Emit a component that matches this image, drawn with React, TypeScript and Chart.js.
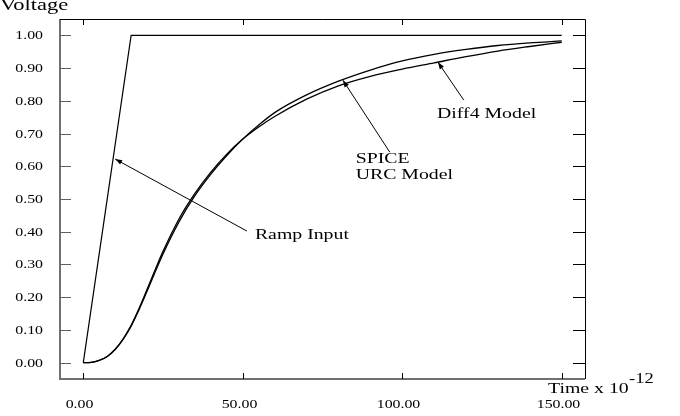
import React, { useEffect, useRef } from "react";
import { Chart, registerables } from "chart.js";

Chart.register(...registerables);

// ---- data ----
const times = [0, 2.5, 5, 7.5, 10, 12.5, 15, 17.5, 20, 22.5, 25, 30, 35, 40, 45, 50, 55, 60, 70, 80, 90, 100, 110, 120, 130, 140, 150];
const spiceValues = [0, 0.001, 0.007, 0.019, 0.04, 0.071, 0.111, 0.162, 0.218, 0.276, 0.332, 0.43, 0.51, 0.576, 0.633, 0.683, 0.726, 0.764, 0.818, 0.86, 0.894, 0.922, 0.942, 0.957, 0.969, 0.977, 0.983];
const diff4Values = [0, 0.001, 0.007, 0.019, 0.041, 0.073, 0.114, 0.166, 0.224, 0.283, 0.34, 0.439, 0.517, 0.582, 0.637, 0.683, 0.72, 0.752, 0.805, 0.846, 0.875, 0.897, 0.916, 0.935, 0.952, 0.966, 0.979];
const rampTimes = [0, 15, 150];
const rampValues = [0, 1, 1];
const xTickValues = [0, 50, 100, 150];
const yTickValues = [0, 0.1, 0.2, 0.3, 0.4, 0.5, 0.6, 0.7, 0.8, 0.9, 1.0];
const xTickLabels = xTickValues.map((v) => v.toFixed(2));
const yTickLabels = yTickValues.map((v) => v.toFixed(2));

const yTitle = "Voltage";
const xTitle = "Time x 10";
const xTitleExp = "-12";

// annotations (data coordinates)
const arrows = [
  { from: [51.3, 0.402], to: [10.0, 0.622] },
  { from: [96.1, 0.643], to: [81.4, 0.863] },
  { from: [119.3, 0.802], to: [111.2, 0.918] },
];
const notes = [
  { text: "Ramp Input", t: 53.8, v: 0.39 },
  { text: "SPICE", t: 85.4, v: 0.622 },
  { text: "URC Model", t: 85.4, v: 0.573 },
  { text: "Diff4 Model", t: 110.9, v: 0.76 },
];

const SERIF = '"Liberation Serif", "Times New Roman", serif';
const SX = 1.32;

function stretchText(ctx: CanvasRenderingContext2D, text: string, x: number, y: number, size: number, align: string) {
  ctx.save();
  ctx.font = `${size}px ${SERIF}`;
  ctx.textBaseline = "middle";
  ctx.textAlign = "left";
  const w = ctx.measureText(text).width * SX;
  const left = align === "right" ? x - w : align === "center" ? x - w / 2 : x;
  ctx.translate(left, y);
  ctx.scale(SX, 1);
  ctx.fillStyle = "#000";
  ctx.fillText(text, 0, 0);
  ctx.restore();
}

const framePlugin = {
  id: "frame",
  afterDraw(chart: any) {
    const { ctx, chartArea } = chart;
    const { left, right, top, bottom } = chartArea;
    const xs = chart.scales.x;
    const ys = chart.scales.y;
    ctx.save();
    // left & bottom axes (gray)
    ctx.strokeStyle = "#707070";
    ctx.lineWidth = 2;
    ctx.beginPath();
    ctx.moveTo(left, top);
    ctx.lineTo(left, bottom);
    ctx.lineTo(right, bottom);
    ctx.stroke();
    // top & right (black)
    ctx.strokeStyle = "#000";
    ctx.lineWidth = 1;
    ctx.beginPath();
    ctx.moveTo(left, top + 0.5);
    ctx.lineTo(right + 0.5, top + 0.5);
    ctx.lineTo(right + 0.5, bottom);
    ctx.stroke();

    // y ticks
    yTickValues.forEach((v, i) => {
      const py = Math.round(ys.getPixelForValue(v)) + 0.5;
      ctx.strokeStyle = "#606060";
      ctx.beginPath();
      ctx.moveTo(left, py);
      ctx.lineTo(left + 11, py);
      ctx.stroke();
      ctx.strokeStyle = "#000";
      ctx.beginPath();
      ctx.moveTo(right - 12, py);
      ctx.lineTo(right, py);
      ctx.stroke();
      stretchText(ctx, yTickLabels[i], 43, py, 12, "right");
    });
    // x ticks
    xTickValues.forEach((v, i) => {
      const px = Math.round(xs.getPixelForValue(v)) + 0.5;
      ctx.strokeStyle = "#000";
      ctx.beginPath();
      ctx.moveTo(px, bottom);
      ctx.lineTo(px, bottom - 6);
      ctx.moveTo(px, top);
      ctx.lineTo(px, top + 6);
      ctx.stroke();
      stretchText(ctx, xTickLabels[i], px - 4, bottom + 26, 12, "center");
    });

    // titles
    ctx.save();
    ctx.font = `17px ${SERIF}`;
    ctx.textBaseline = "alphabetic";
    ctx.translate(0, 10);
    ctx.scale(SX, 1);
    ctx.fillStyle = "#000";
    ctx.fillText(yTitle, 0, 0);
    ctx.restore();
    stretchText(ctx, xTitle, 548, bottom + 10, 15, "left");
    stretchText(ctx, xTitleExp, 629, bottom, 14, "left");

    // arrows
    ctx.strokeStyle = "#000";
    ctx.fillStyle = "#000";
    ctx.lineWidth = 1;
    arrows.forEach((a) => {
      const x1 = xs.getPixelForValue(a.from[0]);
      const y1 = ys.getPixelForValue(a.from[1]);
      const x2 = xs.getPixelForValue(a.to[0]);
      const y2 = ys.getPixelForValue(a.to[1]);
      ctx.beginPath();
      ctx.moveTo(x1, y1);
      ctx.lineTo(x2, y2);
      ctx.stroke();
      const ang = Math.atan2(y2 - y1, x2 - x1);
      const len = 7;
      const hw = 2.5;
      const bx = x2 - len * Math.cos(ang);
      const by = y2 - len * Math.sin(ang);
      ctx.beginPath();
      ctx.moveTo(x2, y2);
      ctx.lineTo(bx + hw * Math.sin(ang), by - hw * Math.cos(ang));
      ctx.lineTo(bx - hw * Math.sin(ang), by + hw * Math.cos(ang));
      ctx.closePath();
      ctx.fill();
    });
    notes.forEach((n) => {
      stretchText(ctx, n.text, xs.getPixelForValue(n.t), ys.getPixelForValue(n.v), 15, "left");
    });
    ctx.restore();
  },
};

export default function App() {
  const ref = useRef<HTMLCanvasElement | null>(null);
  useEffect(() => {
    if (!ref.current) return;
    const mk = (ts: number[], vs: number[]) => ts.map((t, i) => ({ x: t, y: vs[i] }));
    const chart = new Chart(ref.current, {
      type: "line",
      data: {
        datasets: [
          { label: "Ramp Input", data: mk(rampTimes, rampValues), borderColor: "#000", borderWidth: 1.2, pointRadius: 0, tension: 0 },
          { label: "SPICE URC Model", data: mk(times, spiceValues), borderColor: "#000", borderWidth: 1.3, pointRadius: 0, cubicInterpolationMode: "monotone" },
          { label: "Diff4 Model", data: mk(times, diff4Values), borderColor: "#000", borderWidth: 1.3, pointRadius: 0, cubicInterpolationMode: "monotone" },
        ],
      },
      options: {
        animation: false,
        responsive: false,
        devicePixelRatio: 1,
        layout: { padding: { left: 60, top: 19, right: 95, bottom: 37 } },
        scales: {
          x: { type: "linear", min: -7.3, max: 157.3, display: false },
          y: { type: "linear", min: -0.05, max: 1.05, display: false },
        },
        plugins: { legend: { display: false }, tooltip: { enabled: false } },
      },
      plugins: [framePlugin],
    } as any);
    return () => chart.destroy();
  }, []);
  return (
    <div style={{ position: "fixed", left: 0, top: 0, width: 680, height: 416, background: "#fff" }}>
      <canvas ref={ref} width={680} height={416} style={{ display: "block" }} />
    </div>
  );
}
